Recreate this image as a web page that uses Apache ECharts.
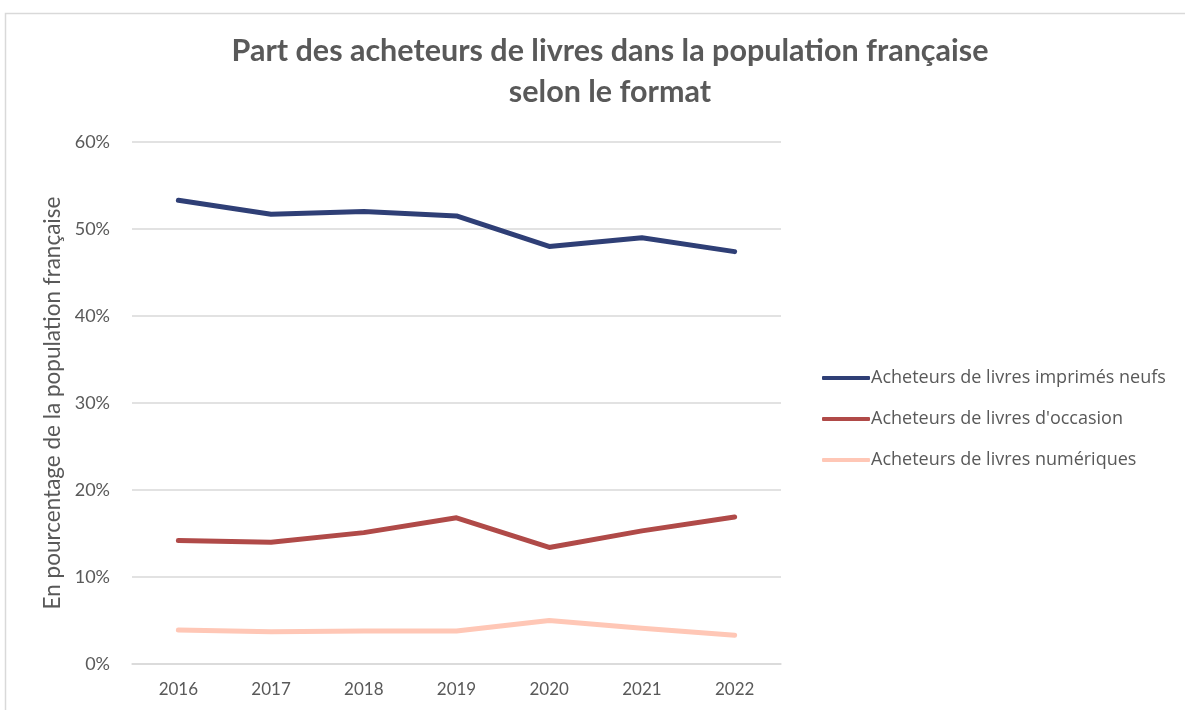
<!DOCTYPE html>
<html>
<head>
<meta charset="utf-8">
<script src="https://cdn.jsdelivr.net/npm/echarts@6/dist/echarts.min.js"></script>
<style>
  html, body { margin: 0; padding: 0; background: #fff; }
  #chart { width: 1185px; height: 710px; }
</style>
</head>
<body>
<div id="chart"></div>
<script>
  var years = ['2016', '2017', '2018', '2019', '2020', '2021', '2022'];
  var imprimes = [53.3, 51.7, 52.0, 51.5, 48.0, 49.0, 47.4];
  var occasion = [14.2, 14.0, 15.1, 16.8, 13.4, 15.3, 16.9];
  var numeriques = [3.9, 3.7, 3.8, 3.8, 5.0, 4.1, 3.3];
  var seriesNames = ['Acheteurs de livres imprimés neufs', "Acheteurs de livres d'occasion", 'Acheteurs de livres numériques'];
  var colors = ['#2f3f76', '#b04a48', '#ffc7b6'];

  var myChart = echarts.init(document.getElementById('chart'));
  myChart.setOption({
    animation: false,
    title: {
      text: 'Part des acheteurs de livres dans la population française\nselon le format',
      left: 605,
      top: 26,
      textAlign: 'center',
      textStyle: {
        fontFamily: 'Lato',
        fontWeight: 'bold',
        fontSize: 30.5,
        color: '#595959',
        lineHeight: 41
      }
    },
    graphic: [{
      type: 'rect',
      shape: { x: 5.5, y: 13.5, width: 1200, height: 720 },
      style: { fill: 'none', stroke: '#d9d9d9', lineWidth: 1.5 },
      silent: true
    }],
    legend: {
      orient: 'vertical',
      left: 817,
      top: 363,
      itemWidth: 48,
      itemHeight: 4,
      itemGap: 21,
      icon: 'roundRect',
      textStyle: { fontFamily: 'Open Sans', fontSize: 18, lineHeight: 20, color: '#595959', padding: [0, 0, 0, -4] },
      data: seriesNames
    },
    grid: { left: 132, right: 404, top: 142, bottom: 46 },
    xAxis: {
      type: 'category',
      data: years,
      boundaryGap: true,
      axisLine: { lineStyle: { color: '#d9d9d9', width: 1.5 } },
      axisTick: { show: false },
      axisLabel: { fontFamily: 'Lato', fontSize: 17, color: '#595959', margin: 17 }
    },
    yAxis: {
      type: 'value',
      min: 0,
      max: 60,
      interval: 10,
      name: 'En pourcentage de la population française',
      nameLocation: 'middle',
      nameGap: 64,
      nameTextStyle: { fontFamily: 'Lato', fontSize: 22.5, color: '#595959' },
      axisLine: { show: false },
      axisTick: { show: false },
      splitLine: { lineStyle: { color: '#d9d9d9', width: 1.5 } },
      axisLabel: { formatter: '{value}%', fontFamily: 'Lato', fontSize: 18, color: '#595959', margin: 22 }
    },
    series: [{
      name: seriesNames[0],
      type: 'line',
      data: imprimes,
      symbol: 'none',
      color: colors[0],
      lineStyle: { width: 5, cap: 'round', join: 'round' }
    }, {
      name: seriesNames[1],
      type: 'line',
      data: occasion,
      symbol: 'none',
      color: colors[1],
      lineStyle: { width: 5, cap: 'round', join: 'round' }
    }, {
      name: seriesNames[2],
      type: 'line',
      data: numeriques,
      symbol: 'none',
      color: colors[2],
      lineStyle: { width: 5, cap: 'round', join: 'round' }
    }]
  });
</script>
</body>
</html>
